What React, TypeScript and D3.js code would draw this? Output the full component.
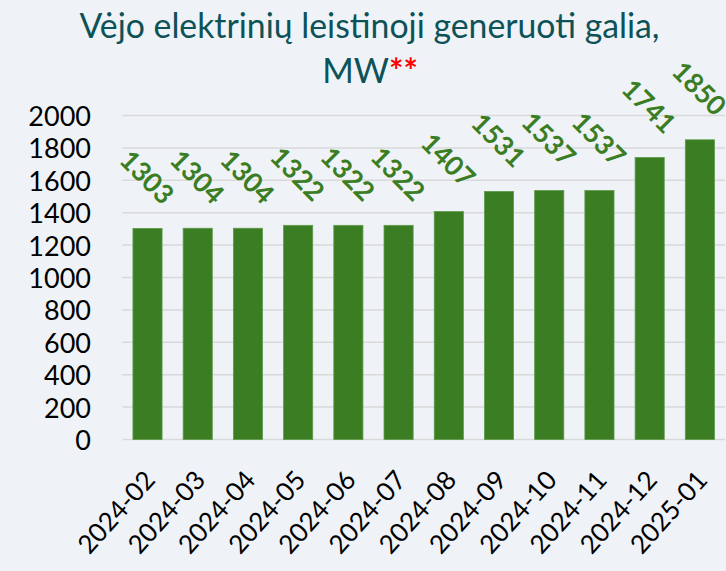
import React from "react";
import * as d3 from "d3";

const categories = ["2024-02","2024-03","2024-04","2024-05","2024-06","2024-07","2024-08","2024-09","2024-10","2024-11","2024-12","2025-01"];
const values = [1303,1304,1304,1322,1322,1322,1407,1531,1537,1537,1741,1850];
const yTicks = [0,200,400,600,800,1000,1200,1400,1600,1800,2000];
const titleLine1 = "Vėjo elektrinių leistinoji generuoti galia,";
const titleLine2 = "MW";
const titleMark = "**";

const W = 726, H = 571;
const FONT = "Lato, 'Open Sans', sans-serif";

export default function App() {
  const x = d3.scaleBand<string>().domain(categories).range([122.4, 725]).paddingInner(0.42).paddingOuter(0.21);
  const y = d3.scaleLinear().domain([0, 2000]).range([439.5, 115.5]);
  const bw = x.bandwidth();
  return (
    <svg width={W} height={H} style={{ position: "absolute", left: 0, top: 0 }} fontFamily={FONT}>
      <rect x={0} y={0} width={W} height={H} fill="#EFF3F7" />
      <text x={369.5} y={38} textAnchor="middle" fontSize={34} fill="#0D5257" textLength={580} lengthAdjust="spacingAndGlyphs">{titleLine1}</text>
      <text x={370} y={83} textAnchor="middle" fontSize={34} fill="#0D5257">
        {titleLine2}<tspan fill="#FF0000" fontWeight="bold">{titleMark}</tspan>
      </text>
      {yTicks.map((t) => (
        <g key={t}>
          <line x1={122.4} x2={725} y1={y(t)} y2={y(t)} stroke="#D9D9D9" strokeWidth={1.5} />
          <text x={91} y={y(t)} textAnchor="end" dominantBaseline="central" fontSize={27} fill="#000">{t}</text>
        </g>
      ))}
      {categories.map((c, i) => {
        const xc = (x(c) as number) + bw / 2;
        const v = values[i];
        return (
          <g key={c}>
            <rect x={x(c)} y={y(v)} width={bw} height={y(0) - y(v)} fill="#3B7D23" stroke="#5E9A48" strokeWidth={0.8} />
            <text transform={`translate(${xc},${y(v) - 52}) rotate(45)`} textAnchor="middle" dominantBaseline="central" fontSize={27} fontWeight="bold" fill="#3B7D23">{v}</text>
            <text transform={`translate(${xc + 9},${481}) rotate(-48)`} textAnchor="end" fontSize={26} fill="#000">{c}</text>
          </g>
        );
      })}
    </svg>
  );
}
